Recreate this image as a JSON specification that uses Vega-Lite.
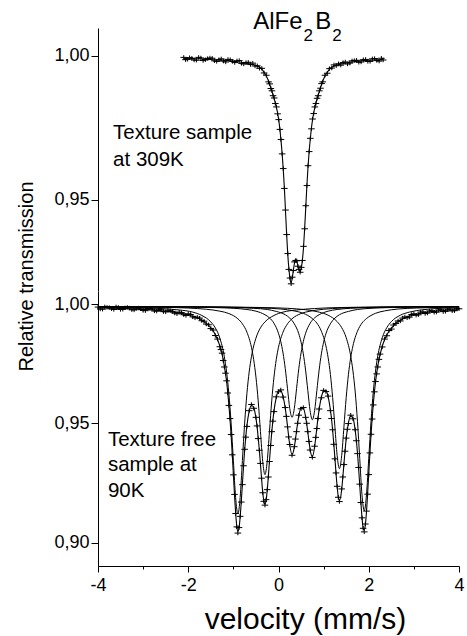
{
"$schema": "https://vega.github.io/schema/vega-lite/v6.json",
"background": "white",
"padding": {"left": 16, "top": 9, "right": 3, "bottom": 3},
"spacing": 0,
"bounds": "flush",
"resolve": {"scale": {"x": "independent", "y": "independent"}},
"config": {
  "view": {"stroke": null},
  "font": "Liberation Sans",
  "axis": {"grid": false, "domainColor": "#000", "domainWidth": 1, "tickColor": "#000", "tickWidth": 1, "labelColor": "#000", "titleColor": "#000", "labelFont": "Liberation Sans", "titleFont": "Liberation Sans", "titleFontWeight": "normal"},
  "text": {"font": "Liberation Sans", "color": "#000"}
},
"datasets": {
"top": [
{"x":-2.10,"fit":0.9991,"obs":0.9995},{"x":-2.06,"fit":0.9991,"obs":0.9987},{"x":-2.02,"fit":0.9991,"obs":0.9988},{"x":-1.97,"fit":0.9990,"obs":0.9994},{"x":-1.92,"fit":0.9990,"obs":0.9992},{"x":-1.87,"fit":0.9990,"obs":0.9986},{"x":-1.82,"fit":0.9990,"obs":0.9985},{"x":-1.77,"fit":0.9990,"obs":0.9995},{"x":-1.72,"fit":0.9990,"obs":0.9993},{"x":-1.67,"fit":0.9989,"obs":0.9984},{"x":-1.62,"fit":0.9989,"obs":0.9987},{"x":-1.57,"fit":0.9988,"obs":0.9991},{"x":-1.52,"fit":0.9988,"obs":0.9993},{"x":-1.47,"fit":0.9987,"obs":0.9992},{"x":-1.42,"fit":0.9987,"obs":0.9983},{"x":-1.37,"fit":0.9986,"obs":0.9981},{"x":-1.32,"fit":0.9986,"obs":0.9987},{"x":-1.27,"fit":0.9985,"obs":0.9990},{"x":-1.22,"fit":0.9985,"obs":0.9982},{"x":-1.17,"fit":0.9984,"obs":0.9979},{"x":-1.12,"fit":0.9984,"obs":0.9988},{"x":-1.07,"fit":0.9983,"obs":0.9987},{"x":-1.02,"fit":0.9982,"obs":0.9981},{"x":-0.97,"fit":0.9981,"obs":0.9977},{"x":-0.92,"fit":0.9980,"obs":0.9983},{"x":-0.87,"fit":0.9979,"obs":0.9984},{"x":-0.82,"fit":0.9978,"obs":0.9974},{"x":-0.77,"fit":0.9976,"obs":0.9972},{"x":-0.72,"fit":0.9975,"obs":0.9977},{"x":-0.67,"fit":0.9973,"obs":0.9978},{"x":-0.62,"fit":0.9972,"obs":0.9970},{"x":-0.57,"fit":0.9970,"obs":0.9975},{"x":-0.52,"fit":0.9968,"obs":0.9965},{"x":-0.47,"fit":0.9965,"obs":0.9966},{"x":-0.42,"fit":0.9961,"obs":0.9957},{"x":-0.37,"fit":0.9954,"obs":0.9957},{"x":-0.32,"fit":0.9943,"obs":0.9941},{"x":-0.27,"fit":0.9930,"obs":0.9933},{"x":-0.22,"fit":0.9912,"obs":0.9910},{"x":-0.195,"fit":0.9901,"obs":0.9903},{"x":-0.17,"fit":0.9890,"obs":0.9887},{"x":-0.145,"fit":0.9877,"obs":0.9879},{"x":-0.12,"fit":0.9864,"obs":0.9862},{"x":-0.095,"fit":0.9851,"obs":0.9854},{"x":-0.07,"fit":0.9837,"obs":0.9835},{"x":-0.045,"fit":0.9821,"obs":0.9823},{"x":-0.02,"fit":0.9802,"obs":0.9799},{"x":0.005,"fit":0.9777,"obs":0.9779},{"x":0.03,"fit":0.9747,"obs":0.9745},{"x":0.055,"fit":0.9707,"obs":0.9710},{"x":0.08,"fit":0.9662,"obs":0.9660},{"x":0.105,"fit":0.9607,"obs":0.9609},{"x":0.13,"fit":0.9542,"obs":0.9540},{"x":0.155,"fit":0.9462,"obs":0.9465},{"x":0.18,"fit":0.9382,"obs":0.9380},{"x":0.205,"fit":0.9312,"obs":0.9314},{"x":0.23,"fit":0.9262,"obs":0.9259},{"x":0.255,"fit":0.9227,"obs":0.9229},{"x":0.28,"fit":0.9212,"obs":0.9209},{"x":0.305,"fit":0.9230,"obs":0.9232},{"x":0.33,"fit":0.9257,"obs":0.9255},{"x":0.355,"fit":0.9282,"obs":0.9285},{"x":0.38,"fit":0.9292,"obs":0.9290},{"x":0.405,"fit":0.9287,"obs":0.9289},{"x":0.43,"fit":0.9272,"obs":0.9270},{"x":0.455,"fit":0.9257,"obs":0.9259},{"x":0.48,"fit":0.9252,"obs":0.9249},{"x":0.505,"fit":0.9264,"obs":0.9266},{"x":0.53,"fit":0.9292,"obs":0.9290},{"x":0.555,"fit":0.9337,"obs":0.9339},{"x":0.58,"fit":0.9402,"obs":0.9400},{"x":0.605,"fit":0.9477,"obs":0.9480},{"x":0.63,"fit":0.9552,"obs":0.9550},{"x":0.655,"fit":0.9617,"obs":0.9619},{"x":0.68,"fit":0.9670,"obs":0.9668},{"x":0.705,"fit":0.9712,"obs":0.9714},{"x":0.73,"fit":0.9750,"obs":0.9747},{"x":0.755,"fit":0.9779,"obs":0.9781},{"x":0.78,"fit":0.9802,"obs":0.9800},{"x":0.805,"fit":0.9821,"obs":0.9823},{"x":0.83,"fit":0.9837,"obs":0.9835},{"x":0.855,"fit":0.9851,"obs":0.9853},{"x":0.88,"fit":0.9864,"obs":0.9862},{"x":0.905,"fit":0.9877,"obs":0.9879},{"x":0.93,"fit":0.9890,"obs":0.9888},{"x":0.955,"fit":0.9901,"obs":0.9904},{"x":0.98,"fit":0.9912,"obs":0.9910},{"x":1.03,"fit":0.9930,"obs":0.9933},{"x":1.08,"fit":0.9943,"obs":0.9940},{"x":1.13,"fit":0.9954,"obs":0.9956},{"x":1.18,"fit":0.9961,"obs":0.9958},{"x":1.23,"fit":0.9965,"obs":0.9969},{"x":1.28,"fit":0.9968,"obs":0.9966},{"x":1.33,"fit":0.9970,"obs":0.9973},{"x":1.38,"fit":0.9972,"obs":0.9968},{"x":1.43,"fit":0.9973,"obs":0.9977},{"x":1.48,"fit":0.9975,"obs":0.9979},{"x":1.53,"fit":0.9977,"obs":0.9972},{"x":1.58,"fit":0.9978,"obs":0.9975},{"x":1.63,"fit":0.9979,"obs":0.9983},{"x":1.68,"fit":0.9980,"obs":0.9984},{"x":1.73,"fit":0.9981,"obs":0.9985},{"x":1.78,"fit":0.9982,"obs":0.9978},{"x":1.83,"fit":0.9983,"obs":0.9979},{"x":1.88,"fit":0.9984,"obs":0.9987},{"x":1.93,"fit":0.9984,"obs":0.9988},{"x":1.98,"fit":0.9985,"obs":0.9981},{"x":2.03,"fit":0.9985,"obs":0.9981},{"x":2.08,"fit":0.9986,"obs":0.9990},{"x":2.13,"fit":0.9986,"obs":0.9991},{"x":2.18,"fit":0.9987,"obs":0.9984},{"x":2.23,"fit":0.9987,"obs":0.9982},{"x":2.28,"fit":0.9988,"obs":0.9992},{"x":2.32,"fit":0.9989,"obs":0.9986}
],
"bot": [
{"x":-4.0,"fit":0.9983,"obs":0.9987},{"x":-3.95,"fit":0.9983,"obs":0.9979},{"x":-3.9,"fit":0.9983,"obs":0.9978},{"x":-3.85,"fit":0.9983,"obs":0.9988},{"x":-3.8,"fit":0.9983,"obs":0.9986},{"x":-3.75,"fit":0.9982,"obs":0.9985},{"x":-3.7,"fit":0.9982,"obs":0.9980},{"x":-3.65,"fit":0.9982,"obs":0.9977},{"x":-3.6,"fit":0.9982,"obs":0.9988},{"x":-3.55,"fit":0.9981,"obs":0.9986},{"x":-3.5,"fit":0.9981,"obs":0.9977},{"x":-3.45,"fit":0.9981,"obs":0.9978},{"x":-3.4,"fit":0.9981,"obs":0.9984},{"x":-3.35,"fit":0.9980,"obs":0.9986},{"x":-3.3,"fit":0.9980,"obs":0.9983},{"x":-3.25,"fit":0.9979,"obs":0.9976},{"x":-3.2,"fit":0.9979,"obs":0.9975},{"x":-3.15,"fit":0.9978,"obs":0.9982},{"x":-3.1,"fit":0.9978,"obs":0.9983},{"x":-3.05,"fit":0.9977,"obs":0.9980},{"x":-3.0,"fit":0.9977,"obs":0.9973},{"x":-2.95,"fit":0.9977,"obs":0.9972},{"x":-2.9,"fit":0.9977,"obs":0.9981},{"x":-2.85,"fit":0.9976,"obs":0.9981},{"x":-2.8,"fit":0.9976,"obs":0.9979},{"x":-2.75,"fit":0.9975,"obs":0.9971},{"x":-2.7,"fit":0.9974,"obs":0.9970},{"x":-2.65,"fit":0.9973,"obs":0.9978},{"x":-2.6,"fit":0.9972,"obs":0.9976},{"x":-2.55,"fit":0.9971,"obs":0.9968},{"x":-2.5,"fit":0.9970,"obs":0.9967},{"x":-2.45,"fit":0.9969,"obs":0.9974},{"x":-2.4,"fit":0.9968,"obs":0.9972},{"x":-2.35,"fit":0.9966,"obs":0.9969},{"x":-2.3,"fit":0.9965,"obs":0.9962},{"x":-2.25,"fit":0.9963,"obs":0.9959},{"x":-2.2,"fit":0.9962,"obs":0.9966},{"x":-2.15,"fit":0.9960,"obs":0.9964},{"x":-2.1,"fit":0.9959,"obs":0.9955},{"x":-2.05,"fit":0.9957,"obs":0.9952},{"x":-2.0,"fit":0.9955,"obs":0.9959},{"x":-1.95,"fit":0.9952,"obs":0.9956},{"x":-1.9,"fit":0.9949,"obs":0.9946},{"x":-1.85,"fit":0.9946,"obs":0.9942},{"x":-1.8,"fit":0.9942,"obs":0.9945},{"x":-1.75,"fit":0.9938,"obs":0.9941},{"x":-1.7,"fit":0.9933,"obs":0.9930},{"x":-1.65,"fit":0.9925,"obs":0.9928},{"x":-1.6,"fit":0.9919,"obs":0.9916},{"x":-1.55,"fit":0.9910,"obs":0.9913},{"x":-1.5,"fit":0.9900,"obs":0.9897},{"x":-1.45,"fit":0.9888,"obs":0.9891},{"x":-1.4,"fit":0.9871,"obs":0.9868},{"x":-1.35,"fit":0.9850,"obs":0.9853},{"x":-1.3,"fit":0.9824,"obs":0.9821},{"x":-1.275,"fit":0.9807,"obs":0.9809},{"x":-1.25,"fit":0.9791,"obs":0.9794},{"x":-1.225,"fit":0.9765,"obs":0.9763},{"x":-1.2,"fit":0.9739,"obs":0.9736},{"x":-1.175,"fit":0.9708,"obs":0.9710},{"x":-1.15,"fit":0.9675,"obs":0.9678},{"x":-1.125,"fit":0.9629,"obs":0.9627},{"x":-1.1,"fit":0.9578,"obs":0.9575},{"x":-1.075,"fit":0.9518,"obs":0.9520},{"x":-1.05,"fit":0.9450,"obs":0.9453},{"x":-1.025,"fit":0.9370,"obs":0.9368},{"x":-1.0,"fit":0.9287,"obs":0.9284},{"x":-0.975,"fit":0.9200,"obs":0.9202},{"x":-0.95,"fit":0.9125,"obs":0.9122},{"x":-0.925,"fit":0.9069,"obs":0.9066},{"x":-0.9,"fit":0.9047,"obs":0.9040},{"x":-0.875,"fit":0.9060,"obs":0.9063},{"x":-0.85,"fit":0.9106,"obs":0.9110},{"x":-0.825,"fit":0.9172,"obs":0.9170},{"x":-0.8,"fit":0.9246,"obs":0.9243},{"x":-0.775,"fit":0.9320,"obs":0.9322},{"x":-0.75,"fit":0.9388,"obs":0.9391},{"x":-0.725,"fit":0.9444,"obs":0.9442},{"x":-0.7,"fit":0.9490,"obs":0.9487},{"x":-0.65,"fit":0.9550,"obs":0.9553},{"x":-0.6,"fit":0.9576,"obs":0.9579},{"x":-0.55,"fit":0.9566,"obs":0.9563},{"x":-0.5,"fit":0.9522,"obs":0.9525},{"x":-0.475,"fit":0.9487,"obs":0.9489},{"x":-0.45,"fit":0.9439,"obs":0.9436},{"x":-0.425,"fit":0.9389,"obs":0.9387},{"x":-0.4,"fit":0.9329,"obs":0.9332},{"x":-0.375,"fit":0.9268,"obs":0.9270},{"x":-0.35,"fit":0.9212,"obs":0.9209},{"x":-0.325,"fit":0.9175,"obs":0.9173},{"x":-0.3,"fit":0.9161,"obs":0.9157},{"x":-0.275,"fit":0.9177,"obs":0.9180},{"x":-0.25,"fit":0.9219,"obs":0.9222},{"x":-0.225,"fit":0.9277,"obs":0.9275},{"x":-0.2,"fit":0.9343,"obs":0.9340},{"x":-0.175,"fit":0.9405,"obs":0.9407},{"x":-0.15,"fit":0.9462,"obs":0.9465},{"x":-0.125,"fit":0.9511,"obs":0.9509},{"x":-0.1,"fit":0.9552,"obs":0.9549},{"x":-0.05,"fit":0.9608,"obs":0.9611},{"x":0.0,"fit":0.9635,"obs":0.9632},{"x":0.05,"fit":0.9637,"obs":0.9640},{"x":0.1,"fit":0.9613,"obs":0.9610},{"x":0.15,"fit":0.9563,"obs":0.9566},{"x":0.175,"fit":0.9527,"obs":0.9529},{"x":0.2,"fit":0.9488,"obs":0.9485},{"x":0.225,"fit":0.9445,"obs":0.9443},{"x":0.25,"fit":0.9408,"obs":0.9411},{"x":0.3,"fit":0.9370,"obs":0.9366},{"x":0.35,"fit":0.9399,"obs":0.9402},{"x":0.375,"fit":0.9432,"obs":0.9434},{"x":0.4,"fit":0.9468,"obs":0.9465},{"x":0.425,"fit":0.9502,"obs":0.9500},{"x":0.45,"fit":0.9531,"obs":0.9534},{"x":0.5,"fit":0.9564,"obs":0.9561},{"x":0.55,"fit":0.9563,"obs":0.9566},{"x":0.6,"fit":0.9528,"obs":0.9525},{"x":0.625,"fit":0.9498,"obs":0.9500},{"x":0.65,"fit":0.9462,"obs":0.9465},{"x":0.675,"fit":0.9426,"obs":0.9424},{"x":0.7,"fit":0.9391,"obs":0.9388},{"x":0.75,"fit":0.9361,"obs":0.9357},{"x":0.8,"fit":0.9401,"obs":0.9404},{"x":0.825,"fit":0.9439,"obs":0.9441},{"x":0.85,"fit":0.9481,"obs":0.9478},{"x":0.875,"fit":0.9522,"obs":0.9520},{"x":0.9,"fit":0.9557,"obs":0.9560},{"x":0.95,"fit":0.9610,"obs":0.9607},{"x":1.0,"fit":0.9635,"obs":0.9638},{"x":1.05,"fit":0.9636,"obs":0.9633},{"x":1.1,"fit":0.9611,"obs":0.9614},{"x":1.15,"fit":0.9556,"obs":0.9553},{"x":1.175,"fit":0.9518,"obs":0.9520},{"x":1.2,"fit":0.9470,"obs":0.9473},{"x":1.225,"fit":0.9414,"obs":0.9412},{"x":1.25,"fit":0.9354,"obs":0.9351},{"x":1.275,"fit":0.9290,"obs":0.9292},{"x":1.3,"fit":0.9233,"obs":0.9236},{"x":1.325,"fit":0.9192,"obs":0.9190},{"x":1.35,"fit":0.9176,"obs":0.9172},{"x":1.4,"fit":0.9222,"obs":0.9225},{"x":1.425,"fit":0.9273,"obs":0.9275},{"x":1.45,"fit":0.9330,"obs":0.9327},{"x":1.475,"fit":0.9385,"obs":0.9383},{"x":1.5,"fit":0.9435,"obs":0.9438},{"x":1.525,"fit":0.9473,"obs":0.9475},{"x":1.55,"fit":0.9502,"obs":0.9499},{"x":1.6,"fit":0.9531,"obs":0.9534},{"x":1.65,"fit":0.9522,"obs":0.9519},{"x":1.7,"fit":0.9470,"obs":0.9473},{"x":1.725,"fit":0.9429,"obs":0.9427},{"x":1.75,"fit":0.9376,"obs":0.9373},{"x":1.775,"fit":0.9313,"obs":0.9315},{"x":1.8,"fit":0.9242,"obs":0.9245},{"x":1.825,"fit":0.9170,"obs":0.9168},{"x":1.85,"fit":0.9107,"obs":0.9104},{"x":1.875,"fit":0.9063,"obs":0.9060},{"x":1.9,"fit":0.9052,"obs":0.9045},{"x":1.925,"fit":0.9075,"obs":0.9078},{"x":1.95,"fit":0.9129,"obs":0.9132},{"x":1.975,"fit":0.9205,"obs":0.9203},{"x":2.0,"fit":0.9288,"obs":0.9285},{"x":2.025,"fit":0.9374,"obs":0.9376},{"x":2.05,"fit":0.9451,"obs":0.9454},{"x":2.075,"fit":0.9520,"obs":0.9518},{"x":2.1,"fit":0.9580,"obs":0.9577},{"x":2.125,"fit":0.9630,"obs":0.9632},{"x":2.15,"fit":0.9672,"obs":0.9675},{"x":2.175,"fit":0.9709,"obs":0.9707},{"x":2.2,"fit":0.9739,"obs":0.9736},{"x":2.225,"fit":0.9766,"obs":0.9768},{"x":2.25,"fit":0.9787,"obs":0.9790},{"x":2.3,"fit":0.9823,"obs":0.9820},{"x":2.35,"fit":0.9850,"obs":0.9853},{"x":2.4,"fit":0.9870,"obs":0.9867},{"x":2.45,"fit":0.9886,"obs":0.9889},{"x":2.5,"fit":0.9898,"obs":0.9895},{"x":2.55,"fit":0.9909,"obs":0.9912},{"x":2.6,"fit":0.9921,"obs":0.9918},{"x":2.65,"fit":0.9926,"obs":0.9929},{"x":2.7,"fit":0.9932,"obs":0.9929},{"x":2.75,"fit":0.9937,"obs":0.9941},{"x":2.8,"fit":0.9942,"obs":0.9946},{"x":2.85,"fit":0.9946,"obs":0.9942},{"x":2.9,"fit":0.9949,"obs":0.9945},{"x":2.95,"fit":0.9952,"obs":0.9956},{"x":3.0,"fit":0.9955,"obs":0.9959},{"x":3.05,"fit":0.9957,"obs":0.9953},{"x":3.1,"fit":0.9959,"obs":0.9955},{"x":3.15,"fit":0.9961,"obs":0.9966},{"x":3.2,"fit":0.9963,"obs":0.9967},{"x":3.25,"fit":0.9964,"obs":0.9960},{"x":3.3,"fit":0.9966,"obs":0.9962},{"x":3.35,"fit":0.9967,"obs":0.9971},{"x":3.4,"fit":0.9968,"obs":0.9972},{"x":3.45,"fit":0.9969,"obs":0.9965},{"x":3.5,"fit":0.9970,"obs":0.9966},{"x":3.55,"fit":0.9971,"obs":0.9975},{"x":3.6,"fit":0.9972,"obs":0.9976},{"x":3.65,"fit":0.9972,"obs":0.9968},{"x":3.7,"fit":0.9973,"obs":0.9969},{"x":3.75,"fit":0.9974,"obs":0.9978},{"x":3.8,"fit":0.9975,"obs":0.9979},{"x":3.85,"fit":0.9975,"obs":0.9971},{"x":3.9,"fit":0.9976,"obs":0.9972},{"x":3.95,"fit":0.9976,"obs":0.9980},{"x":4.0,"fit":0.9977,"obs":0.9980}
],
"comps": [
{"c":1,"x":-4.0,"y":0.9987},{"c":1,"x":-3.1,"y":0.9985},{"c":1,"x":-2.6,"y":0.9981},{"c":1,"x":-2.2,"y":0.9975},{"c":1,"x":-1.9,"y":0.9966},{"c":1,"x":-1.7,"y":0.9952},{"c":1,"x":-1.5,"y":0.9925},{"c":1,"x":-1.4,"y":0.9900},{"c":1,"x":-1.3,"y":0.9857},{"c":1,"x":-1.2,"y":0.9779},{"c":1,"x":-1.15,"y":0.9715},{"c":1,"x":-1.1,"y":0.9625},{"c":1,"x":-1.05,"y":0.9501},{"c":1,"x":-1.0,"y":0.9344},{"c":1,"x":-0.95,"y":0.9189},{"c":1,"x":-0.9,"y":0.9120},{"c":1,"x":-0.85,"y":0.9189},{"c":1,"x":-0.8,"y":0.9344},{"c":1,"x":-0.75,"y":0.9501},{"c":1,"x":-0.7,"y":0.9625},{"c":1,"x":-0.65,"y":0.9715},{"c":1,"x":-0.6,"y":0.9779},{"c":1,"x":-0.5,"y":0.9857},{"c":1,"x":-0.4,"y":0.9900},{"c":1,"x":-0.3,"y":0.9925},{"c":1,"x":-0.1,"y":0.9952},{"c":1,"x":0.1,"y":0.9966},{"c":1,"x":0.4,"y":0.9975},{"c":1,"x":0.8,"y":0.9981},{"c":1,"x":1.3,"y":0.9985},{"c":1,"x":2.1,"y":0.9987},{"c":1,"x":4.0,"y":0.9989},
{"c":2,"x":-4.0,"y":0.9988},{"c":2,"x":-3.3,"y":0.9988},{"c":2,"x":-2.5,"y":0.9986},{"c":2,"x":-2.0,"y":0.9983},{"c":2,"x":-1.6,"y":0.9978},{"c":2,"x":-1.3,"y":0.9970},{"c":2,"x":-1.1,"y":0.9960},{"c":2,"x":-0.9,"y":0.9938},{"c":2,"x":-0.8,"y":0.9917},{"c":2,"x":-0.7,"y":0.9882},{"c":2,"x":-0.6,"y":0.9819},{"c":2,"x":-0.55,"y":0.9767},{"c":2,"x":-0.5,"y":0.9694},{"c":2,"x":-0.45,"y":0.9594},{"c":2,"x":-0.4,"y":0.9466},{"c":2,"x":-0.35,"y":0.9341},{"c":2,"x":-0.3,"y":0.9285},{"c":2,"x":-0.25,"y":0.9341},{"c":2,"x":-0.2,"y":0.9466},{"c":2,"x":-0.15,"y":0.9594},{"c":2,"x":-0.1,"y":0.9694},{"c":2,"x":-0.05,"y":0.9767},{"c":2,"x":0.0,"y":0.9819},{"c":2,"x":0.1,"y":0.9882},{"c":2,"x":0.2,"y":0.9917},{"c":2,"x":0.3,"y":0.9938},{"c":2,"x":0.5,"y":0.9960},{"c":2,"x":0.7,"y":0.9970},{"c":2,"x":1.0,"y":0.9978},{"c":2,"x":1.4,"y":0.9983},{"c":2,"x":1.9,"y":0.9986},{"c":2,"x":2.7,"y":0.9988},{"c":2,"x":4.0,"y":0.9989},
{"c":3,"x":-4.0,"y":0.9989},{"c":3,"x":-2.7,"y":0.9988},{"c":3,"x":-1.9,"y":0.9987},{"c":3,"x":-1.4,"y":0.9985},{"c":3,"x":-1.0,"y":0.9982},{"c":3,"x":-0.7,"y":0.9977},{"c":3,"x":-0.5,"y":0.9970},{"c":3,"x":-0.3,"y":0.9955},{"c":3,"x":-0.2,"y":0.9942},{"c":3,"x":-0.1,"y":0.9919},{"c":3,"x":0.0,"y":0.9877},{"c":3,"x":0.05,"y":0.9843},{"c":3,"x":0.1,"y":0.9795},{"c":3,"x":0.15,"y":0.9729},{"c":3,"x":0.2,"y":0.9645},{"c":3,"x":0.25,"y":0.9562},{"c":3,"x":0.3,"y":0.9525},{"c":3,"x":0.35,"y":0.9562},{"c":3,"x":0.4,"y":0.9645},{"c":3,"x":0.45,"y":0.9729},{"c":3,"x":0.5,"y":0.9795},{"c":3,"x":0.55,"y":0.9843},{"c":3,"x":0.6,"y":0.9877},{"c":3,"x":0.7,"y":0.9919},{"c":3,"x":0.8,"y":0.9942},{"c":3,"x":0.9,"y":0.9955},{"c":3,"x":1.1,"y":0.9970},{"c":3,"x":1.3,"y":0.9977},{"c":3,"x":1.6,"y":0.9982},{"c":3,"x":2.0,"y":0.9985},{"c":3,"x":2.5,"y":0.9987},{"c":3,"x":3.3,"y":0.9988},{"c":3,"x":4.0,"y":0.9989},
{"c":4,"x":-4.0,"y":0.9989},{"c":4,"x":-2.25,"y":0.9988},{"c":4,"x":-1.45,"y":0.9987},{"c":4,"x":-0.95,"y":0.9985},{"c":4,"x":-0.55,"y":0.9982},{"c":4,"x":-0.25,"y":0.9977},{"c":4,"x":-0.05,"y":0.9969},{"c":4,"x":0.15,"y":0.9955},{"c":4,"x":0.25,"y":0.9941},{"c":4,"x":0.35,"y":0.9917},{"c":4,"x":0.45,"y":0.9875},{"c":4,"x":0.5,"y":0.9840},{"c":4,"x":0.55,"y":0.9791},{"c":4,"x":0.6,"y":0.9723},{"c":4,"x":0.65,"y":0.9637},{"c":4,"x":0.7,"y":0.9553},{"c":4,"x":0.75,"y":0.9515},{"c":4,"x":0.8,"y":0.9553},{"c":4,"x":0.85,"y":0.9637},{"c":4,"x":0.9,"y":0.9723},{"c":4,"x":0.95,"y":0.9791},{"c":4,"x":1.0,"y":0.9840},{"c":4,"x":1.05,"y":0.9875},{"c":4,"x":1.15,"y":0.9917},{"c":4,"x":1.25,"y":0.9941},{"c":4,"x":1.35,"y":0.9955},{"c":4,"x":1.55,"y":0.9969},{"c":4,"x":1.75,"y":0.9977},{"c":4,"x":2.05,"y":0.9982},{"c":4,"x":2.45,"y":0.9985},{"c":4,"x":2.95,"y":0.9987},{"c":4,"x":3.75,"y":0.9988},{"c":4,"x":4.0,"y":0.9989},
{"c":5,"x":-4.0,"y":0.9989},{"c":5,"x":-1.65,"y":0.9988},{"c":5,"x":-0.85,"y":0.9986},{"c":5,"x":-0.35,"y":0.9983},{"c":5,"x":0.05,"y":0.9979},{"c":5,"x":0.35,"y":0.9971},{"c":5,"x":0.55,"y":0.9961},{"c":5,"x":0.75,"y":0.9939},{"c":5,"x":0.85,"y":0.9920},{"c":5,"x":0.95,"y":0.9886},{"c":5,"x":1.05,"y":0.9825},{"c":5,"x":1.1,"y":0.9775},{"c":5,"x":1.15,"y":0.9705},{"c":5,"x":1.2,"y":0.9608},{"c":5,"x":1.25,"y":0.9485},{"c":5,"x":1.3,"y":0.9364},{"c":5,"x":1.35,"y":0.9310},{"c":5,"x":1.4,"y":0.9364},{"c":5,"x":1.45,"y":0.9485},{"c":5,"x":1.5,"y":0.9608},{"c":5,"x":1.55,"y":0.9705},{"c":5,"x":1.6,"y":0.9775},{"c":5,"x":1.65,"y":0.9825},{"c":5,"x":1.75,"y":0.9886},{"c":5,"x":1.85,"y":0.9920},{"c":5,"x":1.95,"y":0.9939},{"c":5,"x":2.15,"y":0.9961},{"c":5,"x":2.35,"y":0.9971},{"c":5,"x":2.65,"y":0.9979},{"c":5,"x":3.05,"y":0.9983},{"c":5,"x":3.55,"y":0.9986},{"c":5,"x":4.0,"y":0.9987},
{"c":6,"x":-4.0,"y":0.9989},{"c":6,"x":-1.1,"y":0.9987},{"c":6,"x":-0.3,"y":0.9985},{"c":6,"x":0.2,"y":0.9982},{"c":6,"x":0.6,"y":0.9976},{"c":6,"x":0.9,"y":0.9966},{"c":6,"x":1.1,"y":0.9953},{"c":6,"x":1.3,"y":0.9926},{"c":6,"x":1.4,"y":0.9901},{"c":6,"x":1.5,"y":0.9859},{"c":6,"x":1.6,"y":0.9782},{"c":6,"x":1.65,"y":0.9719},{"c":6,"x":1.7,"y":0.9631},{"c":6,"x":1.75,"y":0.9508},{"c":6,"x":1.8,"y":0.9353},{"c":6,"x":1.85,"y":0.9201},{"c":6,"x":1.9,"y":0.9133},{"c":6,"x":1.95,"y":0.9201},{"c":6,"x":2.0,"y":0.9353},{"c":6,"x":2.05,"y":0.9508},{"c":6,"x":2.1,"y":0.9631},{"c":6,"x":2.15,"y":0.9719},{"c":6,"x":2.2,"y":0.9782},{"c":6,"x":2.3,"y":0.9859},{"c":6,"x":2.4,"y":0.9901},{"c":6,"x":2.5,"y":0.9926},{"c":6,"x":2.7,"y":0.9953},{"c":6,"x":2.9,"y":0.9966},{"c":6,"x":3.2,"y":0.9976},{"c":6,"x":3.6,"y":0.9982},{"c":6,"x":4.0,"y":0.9984}
]
},
"vconcat": [
{
  "width": 361, "height": 263,
  "encoding": {"x": {"field": "x", "type": "quantitative", "scale": {"domain": [-4, 4], "nice": false, "zero": false}, "axis": null}},
  "layer": [
    {"data": {"name": "top"}, "mark": {"type": "line", "color": "#000", "strokeWidth": 1.1, "interpolate": "monotone"},
     "encoding": {"y": {"field": "fit", "type": "quantitative", "title": "Relative transmission",
       "scale": {"domain": [0.9184, 1.0097], "nice": false, "zero": false},
       "axis": {"values": [0.95, 1.0], "labelExpr": "replace(format(datum.value, '.2f'), '.', ',')", "labelFontSize": 18, "tickSize": 7, "labelPadding": 2, "titleFontSize": 20, "titleX": -66, "titleY": 248, "titleBaseline": "alphabetic", "titleAlign": "center", "titleAngle": 270}}}},
    {"data": {"name": "top"}, "mark": {"type": "point", "shape": "M-1.2,0L1.2,0M0,-0.8L0,0.8", "filled": false, "color": "#000", "strokeWidth": 1, "size": 30, "opacity": 1},
     "encoding": {"y": {"field": "obs", "type": "quantitative", "title": "Relative transmission"}}},
    {"data": {"values": [{"x": -3.665, "y": 0.9712, "t": "Texture sample\nat 309K"}]},
     "mark": {"type": "text", "align": "left", "baseline": "alphabetic", "fontSize": 20.5, "lineHeight": 27, "lineBreak": "\n", "color": "#000"},
     "encoding": {"y": {"field": "y", "type": "quantitative", "title": "Relative transmission"}, "text": {"field": "t"}}},
    {"data": {"values": [{"x": -0.561, "y": 1.0094, "t": "AlFe"}, {"x": 0.814, "y": 1.0094, "t": "B"}]},
     "mark": {"type": "text", "align": "left", "baseline": "alphabetic", "fontSize": 24, "color": "#000"},
     "encoding": {"y": {"field": "y", "type": "quantitative", "title": "Relative transmission"}, "text": {"field": "t"}}},
    {"data": {"values": [{"x": 0.554, "y": 1.0052, "t": "2"}, {"x": 1.19, "y": 1.0052, "t": "2"}]},
     "mark": {"type": "text", "align": "left", "baseline": "alphabetic", "fontSize": 17, "color": "#000"},
     "encoding": {"y": {"field": "y", "type": "quantitative", "title": "Relative transmission"}, "text": {"field": "t"}}}
  ]
},
{
  "width": 361, "height": 275,
  "encoding": {"x": {"field": "x", "type": "quantitative", "title": "velocity (mm/s)",
    "scale": {"domain": [-4, 4], "nice": false, "zero": false},
    "axis": {"values": [-4, -3, -2, -1, 0, 1, 2, 3, 4], "labelExpr": "datum.value % 2 === 0 ? '' + datum.value : ''", "labelFontSize": 18, "labelFlush": false, "labelOverlap": false,
      "tickSize": {"condition": {"test": "datum.value % 2 === 0", "value": 6}, "value": 3}, "labelPadding": 4, "titleFontSize": 30, "titleX": 207, "titleY": 62, "titleBaseline": "alphabetic", "titleAlign": "center"}}},
  "layer": [
    {"data": {"name": "comps"}, "mark": {"type": "line", "color": "#000", "strokeWidth": 1, "interpolate": "monotone"},
     "encoding": {"y": {"field": "y", "type": "quantitative", "title": null,
       "scale": {"domain": [0.8902, 1.00545], "nice": false, "zero": false},
       "axis": {"values": [0.9, 0.95, 1.0], "labelExpr": "replace(format(datum.value, '.2f'), '.', ',')", "labelFontSize": 18, "tickSize": 7, "labelPadding": 2}},
       "detail": {"field": "c", "type": "nominal"}}},
    {"data": {"name": "bot"}, "mark": {"type": "line", "color": "#000", "strokeWidth": 1.1, "interpolate": "monotone"},
     "encoding": {"y": {"field": "fit", "type": "quantitative", "title": null}}},
    {"data": {"name": "bot"}, "mark": {"type": "point", "shape": "M-1.2,0L1.2,0M0,-0.8L0,0.8", "filled": false, "color": "#000", "strokeWidth": 1, "size": 30, "opacity": 1},
     "encoding": {"y": {"field": "obs", "type": "quantitative", "title": null}}},
    {"data": {"values": [{"x": -3.78, "y": 0.9405, "t": "Texture free\nsample at\n90K"}]},
     "mark": {"type": "text", "align": "left", "baseline": "alphabetic", "fontSize": 20.5, "lineHeight": 25.5, "lineBreak": "\n", "color": "#000"},
     "encoding": {"y": {"field": "y", "type": "quantitative", "title": null}, "text": {"field": "t"}}}
  ]
}
]
}
